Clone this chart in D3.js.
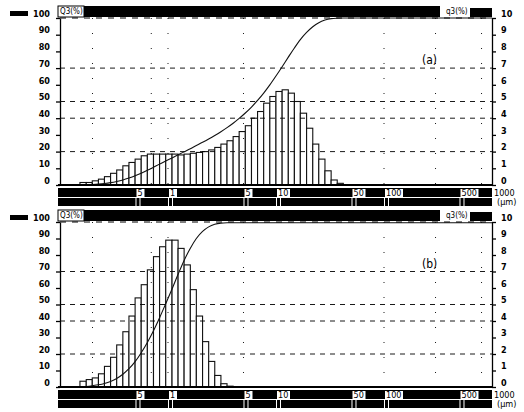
<!DOCTYPE html>
<html>
<head>
<meta charset="utf-8">
<script src="https://cdn.jsdelivr.net/npm/d3@7"></script>
<style>
body { margin: 0; background: #fff; }
svg text { font-family: "Liberation Sans Narrow", "DejaVu Sans Condensed", sans-serif; fill: #000; }
</style>
</head>
<body>
<div id="canvas"></div>
<script>
// particle size class edges (um), shared by both panels
var sizeEdges = [0.153, 0.175, 0.199, 0.227, 0.258, 0.294, 0.335, 0.382, 0.435, 0.496,
                 0.565, 0.644, 0.734, 0.836, 0.953, 1.09, 1.24, 1.41, 1.61, 1.83,
                 2.09, 2.38, 2.71, 3.09, 3.52, 4.01, 4.56, 5.20, 5.93, 6.75,
                 7.69, 8.77, 9.99, 11.4, 13.0, 14.8, 16.8, 19.2, 21.9, 24.9,
                 28.4, 32.4, 36.9, 42.0];

// frequency q3 (%) per class
var freqA = [0.15, 0.15, 0.25, 0.35, 0.5, 0.7, 0.9, 1.15, 1.35, 1.55,
             1.75, 1.85, 1.85, 1.85, 1.85, 1.85, 1.8, 1.85, 1.9, 1.95,
             2.0, 2.1, 2.25, 2.45, 2.65, 2.9, 3.2, 3.55, 4.0, 4.4,
             4.9, 5.3, 5.6, 5.7, 5.5, 5.0, 4.3, 3.4, 2.45, 1.55,
             0.85, 0.3, 0.1];
var freqB = [0.35, 0.45, 0.55, 0.8, 1.25, 1.8, 2.55, 3.35, 4.3, 5.4,
             6.2, 7.1, 7.9, 8.5, 8.9, 8.9, 8.4, 7.4, 5.9, 4.3,
             2.75, 1.55, 0.7, 0.2, 0.05];

var cumTicks = [0, 10, 20, 30, 40, 50, 60, 70, 80, 90, 100];
var freqTicks = [0, 1, 2, 3, 4, 5, 6, 7, 8, 9, 10];
var sizeTicks = [0.5, 1, 5, 10, 50, 100, 500, 1000];
var sizeTickLabels = ["5", "1", "5", "10", "50", "100", "500", "1000"];
var gridLevels = [20, 40, 50, 70];
var gridSizes = [0.2, 0.7, 1, 5, 100, 300, 800];

var w = 524, h = 412;

var paper = d3.select("#canvas")
	.append("svg")
	.attr("width", w)
	.attr("height", h);

var x = d3.scaleLog().domain([0.1, 1000]).range([60, 492]);

function drawPanel(freq, top, bottom, label) {
	var yCum = d3.scaleLinear().domain([0, 100]).range([bottom, top]);
	var yFreq = d3.scaleLinear().domain([0, 10]).range([bottom, top]);
	var g = paper.append("g");

	// bars
	g.selectAll("rect.bar")
		.data(freq)
		.enter().append("rect")
		.attr("class", "bar")
		.attr("x", function(d, i) { return x(sizeEdges[i]); })
		.attr("width", function(d, i) { return x(sizeEdges[i + 1]) - x(sizeEdges[i]); })
		.attr("y", function(d) { return yFreq(d); })
		.attr("height", function(d) { return bottom - yFreq(d); })
		.style("fill", "#fff")
		.style("stroke", "#111")
		.style("stroke-width", 1.1);

	// dashed grid
	g.selectAll("line.hgrid")
		.data(gridLevels)
		.enter().append("line")
		.attr("x1", x(0.1)).attr("x2", x(1000))
		.attr("y1", function(d) { return yCum(d); })
		.attr("y2", function(d) { return yCum(d); })
		.style("stroke", "#000")
		.style("stroke-width", 0.9)
		.style("stroke-dasharray", "5,5");

	g.selectAll("line.vgrid")
		.data(gridSizes)
		.enter().append("line")
		.attr("x1", function(d) { return x(d); })
		.attr("x2", function(d) { return x(d); })
		.attr("y1", top).attr("y2", bottom)
		.style("stroke", "#000")
		.style("stroke-width", 0.9)
		.style("stroke-dasharray", "1,14");

	// top border (dashed)
	g.append("line")
		.attr("x1", x(0.1)).attr("x2", x(1000))
		.attr("y1", top).attr("y2", top)
		.style("stroke", "#000")
		.style("stroke-dasharray", "6,6");

	// cumulative Q3
	var cum = d3.cumsum(freq);
	var pts = [[sizeEdges[0], 0]];
	cum.forEach(function(c, i) { pts.push([sizeEdges[i + 1], c]); });
	pts.push([1000, cum[cum.length - 1]]);
	g.append("path")
		.datum(pts)
		.attr("d", d3.line()
			.x(function(d) { return x(d[0]); })
			.y(function(d) { return yCum(Math.min(d[1], 100)); })
			.curve(d3.curveMonotoneX))
		.style("fill", "none")
		.style("stroke", "#111")
		.style("stroke-width", 1.1);

	// axes
	var left = g.append("g")
		.attr("transform", "translate(" + x(0.1) + ",0)")
		.call(d3.axisLeft(yCum).tickValues(cumTicks).tickSize(4).tickSizeOuter(0).tickPadding(6));
	var right = g.append("g")
		.attr("transform", "translate(" + x(1000) + ",0)")
		.call(d3.axisRight(yFreq).tickValues(freqTicks).tickSize(4).tickSizeOuter(0).tickPadding(5));
	[left, right].forEach(function(a) {
		a.selectAll("text").attr("dy", "-0.2em").style("font-size", "9px").style("font-weight", "bold");
		a.selectAll("path, line").style("stroke", "#000").style("stroke-width", 1.3);
	});

	g.append("line")
		.attr("x1", x(0.1) - 2).attr("x2", x(1000))
		.attr("y1", bottom).attr("y2", bottom)
		.style("stroke", "#000")
		.style("stroke-width", 2);

	// header band
	g.append("rect").attr("x", 10).attr("y", top - 7).attr("width", 18).attr("height", 5).style("fill", "#000");
	g.append("rect").attr("x", 84).attr("y", top - 12).attr("width", 356).attr("height", 11).style("fill", "#000");
	g.append("rect").attr("x", 470).attr("y", top - 10).attr("width", 22).attr("height", 9).style("fill", "#000");
	g.append("rect").attr("x", 58).attr("y", top - 12).attr("width", 26).attr("height", 11)
		.style("fill", "#fff").style("stroke", "#000");
	g.append("text").attr("x", 60).attr("y", top - 4).text("Q3(%)")
		.style("font-size", "8px");
	g.append("text").attr("x", 446).attr("y", top - 4).text("q3(%)")
		.style("font-size", "8px");

	// footer: size axis band
	var f1 = bottom + 3, f2 = bottom + 13;
	g.append("rect").attr("x", 58).attr("y", f1).attr("width", x(1000) - 58).attr("height", 9).style("fill", "#000");
	g.append("rect").attr("x", 58).attr("y", f2).attr("width", x(1000) - 58).attr("height", 8).style("fill", "#000");

	var ft = g.selectAll("g.sz")
		.data(sizeTicks)
		.enter().append("g")
		.attr("transform", function(d) { return "translate(" + x(d) + ",0)"; });
	ft.append("rect")
		.attr("x", 1).attr("y", f1 + 1)
		.attr("width", function(d, i) { return sizeTickLabels[i].length * 5 + 3; })
		.attr("height", 8)
		.style("fill", "#fff");
	ft.append("text")
		.attr("x", 2).attr("y", f1 + 8)
		.text(function(d, i) { return sizeTickLabels[i]; })
		.style("font-size", "9px");
	ft.append("rect").attr("x", 0).attr("y", f2).attr("width", 1).attr("height", 8).style("fill", "#fff");
	ft.append("rect").attr("x", 4).attr("y", f2).attr("width", 1).attr("height", 8).style("fill", "#fff");

	g.append("text").attr("x", 497).attr("y", f2 + 7).text("(μm)")
		.style("font-size", "9px");

	g.append("text").attr("x", 422).attr("y", top + 46).text(label)
		.style("font-size", "12px");
}

drawPanel(freqA, 18, 185, "(a)");
drawPanel(freqB, 222, 387, "(b)");
</script>
</body>
</html>
